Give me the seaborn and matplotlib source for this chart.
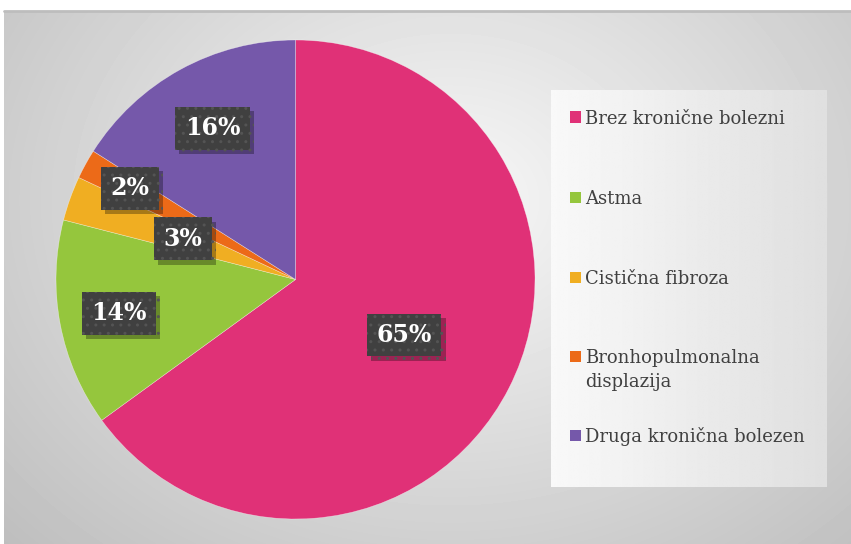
import numpy as np
import matplotlib
matplotlib.use("Agg")
import matplotlib.pyplot as plt
from matplotlib.patches import Rectangle
import matplotlib.patheffects as pe
import seaborn as sns

# ---- data ----
categories = ["Brez kronične bolezni", "Astma", "Cistična fibroza",
              "Bronhopulmonalna\ndisplazija", "Druga kronična bolezen"]
values = [65, 14, 3, 2, 16]
pct_labels = ["65%", "14%", "3%", "2%", "16%"]
colors = ["#E03177", "#95C63D", "#F0AE22", "#EC6A18", "#7558AA"]

# label distance from centre (fraction of radius), layout only
label_dist = [0.51, 0.75, 0.50, 0.79, 0.72]

sns.set_theme(style="white")
plt.rcParams["font.family"] = ["DejaVu Serif", "DejaVu Sans"]

W, H = 851, 544
fig = plt.figure(figsize=(W / 100, H / 100), dpi=100)
fig.patch.set_facecolor("white")

# ---- background panel with radial gradient ----
bg = fig.add_axes([4 / W, 0, (W - 4) / W, (H - 11) / H])
bg.set_axis_off()
yy, xx = np.mgrid[11:H, 4:W]
d = np.sqrt(((xx - 450) / 520.0) ** 2 + ((yy - 200) / 420.0) ** 2)
g = np.clip(0.97 - 0.19 * d, 0.74, 0.975)
bg.imshow(g, cmap="gray", vmin=0, vmax=1, aspect="auto", interpolation="bilinear")
fig.add_artist(plt.Line2D([4 / W, 1], [1 - 11 / H, 1 - 11 / H], color="#bdbdbd",
                          lw=2, transform=fig.transFigure))

# ---- legend box with horizontal gradient ----
lx0, lx1, ly0, ly1 = 551, 827, 90, 487
lg = fig.add_axes([lx0 / W, 1 - ly1 / H, (lx1 - lx0) / W, (ly1 - ly0) / H])
lg.set_axis_off()
gx = np.linspace(0.975, 0.875, 200)[None, :].repeat(50, axis=0)
lg.imshow(gx, cmap="gray", vmin=0, vmax=1, aspect="auto", interpolation="bilinear")

row_y = [117, 197, 277, 356, 435]
for c, lab, ry in zip(colors, categories, row_y):
    fig.add_artist(Rectangle((570 / W, 1 - (ry + 5.5) / H), 11 / W, 11 / H,
                             transform=fig.transFigure, facecolor=c, edgecolor="none"))
    lines = lab.split("\n")
    for k, line in enumerate(lines):
        fig.text(585 / W, 1 - (ry + 24 * k) / H, line, ha="left", va="center_baseline",
                 fontsize=13, color="#404040")

# ---- pie ----
cx, cy, r = 295.5, 279.5, 239.5
ax = fig.add_axes([(cx - r) / W, 1 - (cy + r) / H, 2 * r / W, 2 * r / H])
ax.set_axis_off()
wedges, _ = ax.pie(values, colors=colors, startangle=90, counterclock=False,
                   wedgeprops=dict(edgecolor=(1, 1, 1, 0.5), linewidth=0.4))
ax.set_xlim(-1, 1)
ax.set_ylim(-1, 1)
ax.set_aspect("equal")

for w, lab, dist in zip(wedges, pct_labels, label_dist):
    mid = np.deg2rad((w.theta1 + w.theta2) / 2)
    x, y = dist * np.cos(mid), dist * np.sin(mid)
    t = ax.text(x, y, lab, ha="center", va="center", fontsize=17, fontweight="bold",
                color="white",
                bbox=dict(boxstyle="square,pad=0.4", facecolor="#404040",
                          edgecolor="#545454", linewidth=0, hatch=".."))
    t.get_bbox_patch().set_path_effects(
        [pe.SimplePatchShadow(offset=(3, -3), shadow_rgbFace="black", alpha=0.3),
         pe.Normal()])

fig.savefig("out.png", dpi=100)
